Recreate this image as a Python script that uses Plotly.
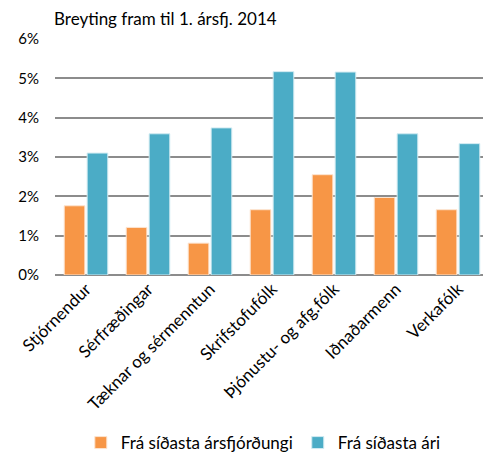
import plotly.graph_objects as go

categories = ["Stjórnendur", "Sérfræðingar", "Tæknar og sérmenntun", "Skrifstofufólk",
              "Þjónustu- og afg.fólk", "Iðnaðarmenn", "Verkafólk"]
fra_arsfj = [1.76, 1.21, 0.81, 1.66, 2.55, 1.97, 1.66]
fra_ari = [3.10, 3.59, 3.74, 5.17, 5.16, 3.59, 3.34]
tick_vals = [0, 1, 2, 3, 4, 5, 6]
tick_text = ["0%", "1%", "2%", "3%", "4%", "5%", "6%"]

FONT = "Lato"

fig = go.Figure()
fig.add_trace(go.Bar(x=categories, y=fra_arsfj, name="Frá síðasta ársfjórðungi",
                     marker=dict(color="#F79646", line=dict(color="#FCE4D0", width=1))))
fig.add_trace(go.Bar(x=categories, y=fra_ari, name="Frá síðasta ári",
                     marker=dict(color="#4BACC6", line=dict(color="#D2EBF2", width=1))))

# page body has an 8px default margin, so the figure is offset by 8px
fig.update_layout(
    width=483, height=447,
    margin=dict(l=47, r=2, t=31, b=180, autoexpand=False),
    paper_bgcolor="white", plot_bgcolor="white",
    barmode="group", bargap=0.26, bargroupgap=0.1,
    font=dict(family=FONT, size=17, color="black"),
    showlegend=True,
    legend=dict(orientation="h", x=0.48, xanchor="center", y=-0.712, yanchor="middle",
                font=dict(size=17), itemwidth=30, traceorder="normal"),
    annotations=[dict(text="Breyting fram til 1. ársfj. 2014", xref="paper", yref="paper",
                      x=-0.007, y=1.034, xanchor="left", yanchor="bottom", showarrow=False,
                      font=dict(size=17, family=FONT))],
)
fig.update_xaxes(tickangle=-45, showgrid=False, showline=False, ticks="",
                 tickfont=dict(size=17), automargin=False)
fig.update_yaxes(range=[0, 6], tickvals=tick_vals, ticktext=tick_text,
                 showgrid=True, gridcolor="#8C8C8C", gridwidth=1.5,
                 zeroline=True, zerolinecolor="#8C8C8C", zerolinewidth=2,
                 showline=False, ticks="outside", ticklen=12, tickcolor="rgba(0,0,0,0)",
                 tickfont=dict(size=15), automargin=False)

fig.write_html("out.html")
